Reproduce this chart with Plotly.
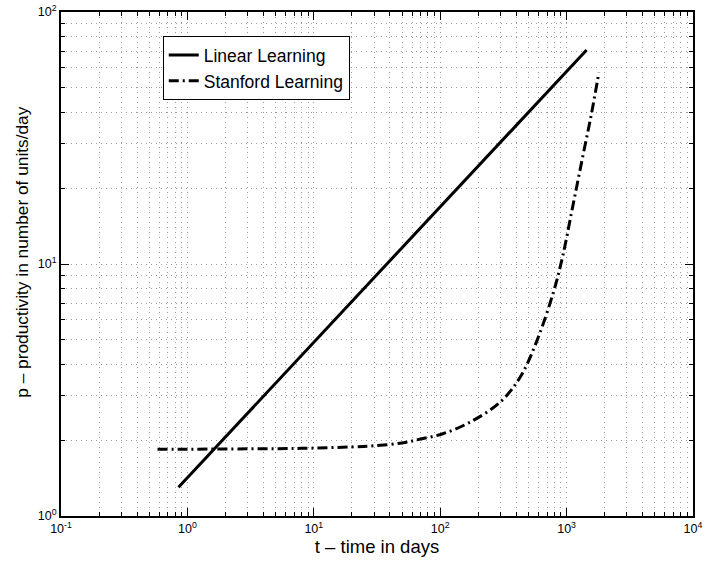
import plotly.graph_objects as go

# Data
linear_t = [0.85, 1440]
linear_p = [1.30, 70.7]

stanford_t = [0.58, 1, 2, 5, 10, 20, 30, 50, 70, 105, 173, 298, 430, 585, 783, 930, 1115, 1340, 1578, 1800]
stanford_p = [1.84, 1.84, 1.845, 1.85, 1.86, 1.88, 1.90, 1.95, 2.02, 2.12, 2.36, 2.83, 3.56, 4.99, 7.67, 10.7, 16.8, 26.6, 39.8, 57.5]

x_decades = [-1, 0, 1, 2, 3, 4]
y_decades = [0, 1, 2]

FONT = "Liberation Sans, Arial, Helvetica, sans-serif"
GRID_DASH = "1px,4px"


def log_ticks(decades):
    vals, text = [], []
    for i, d in enumerate(decades):
        for m in range(1, 10):
            if i == len(decades) - 1 and m > 1:
                break
            vals.append(m * 10.0 ** d)
            text.append("10<sup>%d</sup>" % d if m == 1 else "")
    return vals, text


xv, xt = log_ticks(x_decades)
yv, yt = log_ticks(y_decades)

fig = go.Figure()
fig.add_trace(go.Scatter(x=linear_t, y=linear_p, mode="lines", name="Linear Learning",
                         line=dict(color="black", width=3, dash="solid")))
fig.add_trace(go.Scatter(x=stanford_t, y=stanford_p, mode="lines", name="Stanford Learning",
                         xaxis="x2", yaxis="y2",
                         line=dict(color="black", width=3, dash="10px,4px,2px,4px", shape="spline")))

minor_ax = dict(type="log", showline=True, linecolor="black", linewidth=2, mirror="allticks",
                ticks="inside", ticklen=4, tickcolor="black", tickwidth=1,
                tickfont=dict(size=12.5, color="black", family=FONT),
                showgrid=True, gridcolor="#9c9c9c", griddash=GRID_DASH, gridwidth=1,
                zeroline=False, automargin=False)
major_ax = dict(type="log", showline=False, mirror="allticks",
                ticks="inside", ticklen=8, tickcolor="black", tickwidth=1,
                showticklabels=False, showgrid=False, zeroline=False, automargin=False)

fig.update_layout(
    width=705, height=563,
    margin=dict(l=61, r=12, t=12, b=47),
    plot_bgcolor="white", paper_bgcolor="white",
    font=dict(family=FONT, color="black"),
    xaxis=dict(range=[-1, 4], tickmode="array", tickvals=xv, ticktext=xt,
               title=dict(text="t \u2013 time in days", font=dict(size=18.5, color="black", family=FONT), standoff=5),
               **minor_ax),
    yaxis=dict(range=[0, 2], tickmode="array", tickvals=yv, ticktext=yt, **minor_ax),
    xaxis2=dict(range=[-1, 4], overlaying="x", anchor="y2", side="bottom",
                tickmode="array", tickvals=[10.0 ** d for d in x_decades], **major_ax),
    yaxis2=dict(range=[0, 2], overlaying="y", anchor="x2", side="left",
                tickmode="array", tickvals=[10.0 ** d for d in y_decades], **major_ax),
    annotations=[dict(text="p \u2013 productivity in number of units/day", textangle=-90,
                      xref="paper", yref="paper", x=-0.062, y=0.524,
                      xanchor="center", yanchor="middle", showarrow=False,
                      font=dict(size=17.3, color="black", family=FONT))],
    legend=dict(x=0.161, y=0.952, xanchor="left", yanchor="top",
                bgcolor="white", bordercolor="black", borderwidth=1,
                font=dict(size=17.5, color="black", family=FONT),
                tracegroupgap=0, itemwidth=30),
    showlegend=True,
)

fig.write_html("out.html")
